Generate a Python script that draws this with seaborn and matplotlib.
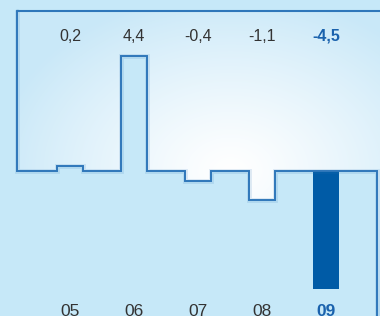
import numpy as np
import pandas as pd
import seaborn as sns
import matplotlib.pyplot as plt
from matplotlib.path import Path
from matplotlib.patches import PathPatch

# data
years = ["05", "06", "07", "08", "09", "10"]
values = [0.2, 4.4, -0.4, -1.1, -4.5, -6.0]
value_labels = ["0,2", "4,4", "-0,4", "-1,1", "-4,5"]
highlight = "09"

bg = "#c6e8f8"
line_col = "#2f77ba"
dark = "#005ba6"
text_dark = "#333333"
text_blue = "#1a62ad"

sns.set_style("white")
plt.rcParams["font.family"] = ["Liberation Sans", "DejaVu Sans"]

df = pd.DataFrame({"year": years, "value": values})

fig = plt.figure(figsize=(3.8, 3.16), dpi=100, facecolor=bg)
ax = fig.add_axes([0, 0, 1, 1])
ax.set_facecolor(bg)

bar_w = 0.406
colors = {y: (dark if y == highlight else bg) for y in years}
sns.barplot(data=df, x="year", y="value", hue="year", palette=colors,
            width=bar_w, linewidth=0, saturation=1, legend=False, ax=ax,
            zorder=0.5)

xlim = (-1.098, 4.839)
ylim = (-5.534, 6.527)
top = 6.107
left = -0.833
hw = bar_w / 2

# outline of the light panel: frame, then a step along the bars
verts = [(left, top), (left, 0)]
for i, (yr, v) in enumerate(zip(years, values)):
    h = 0 if yr == highlight else v
    verts += [(i - hw, 0), (i - hw, h), (i + hw, h), (i + hw, 0)]
verts += [(xlim[1] + 0.5, 0), (xlim[1] + 0.5, top)]
step = np.array(verts)

# soft whitish gradient inside the panel
W, H = 380, 316
px, py = np.meshgrid(np.arange(W), np.arange(H))
d = np.hypot((px - 230) / 1.0, (py - 170) / 0.75)
t = np.clip(d / 240, 0, 1) ** 1.2
base = np.array([0xc9, 0xe8, 0xf8]) / 255
white = np.array([1.0, 1.0, 1.0])
img = white[None, None, :] * (1 - t[..., None]) + base[None, None, :] * t[..., None]
im = ax.imshow(img, extent=(*xlim, ylim[0], ylim[1]), aspect="auto",
               origin="upper", zorder=1)
clip = PathPatch(Path(np.vstack([step, step[:1]])), transform=ax.transData,
                 facecolor="none", edgecolor="none")
ax.add_patch(clip)
im.set_clip_path(clip)

# faint shadow + outline
ax.plot(step[:-1, 0], step[:-1, 1], color=line_col, lw=3.5, alpha=0.15,
        zorder=2, solid_joinstyle="miter")
ax.plot([left, xlim[1] + 0.5], [top, top], color=line_col, lw=1.5, zorder=3)
ax.plot(step[:-1, 0], step[:-1, 1], color=line_col, lw=1.4, zorder=3,
        solid_joinstyle="miter")

for i, lab in enumerate(value_labels):
    hl = years[i] == highlight
    ax.text(i, 5.15, lab, ha="center", va="center", fontsize=11.5,
            color=text_blue if hl else text_dark,
            fontweight="bold" if hl else "normal", zorder=4)
for i, yr in enumerate(years[:5]):
    hl = yr == highlight
    ax.text(i, -5.36, yr, ha="center", va="center", fontsize=12.5,
            color=text_blue if hl else text_dark,
            fontweight="bold" if hl else "normal", zorder=4)

ax.set_xlim(*xlim)
ax.set_ylim(*ylim)
ax.axis("off")
fig.savefig("out.png", dpi=100, facecolor=bg)
